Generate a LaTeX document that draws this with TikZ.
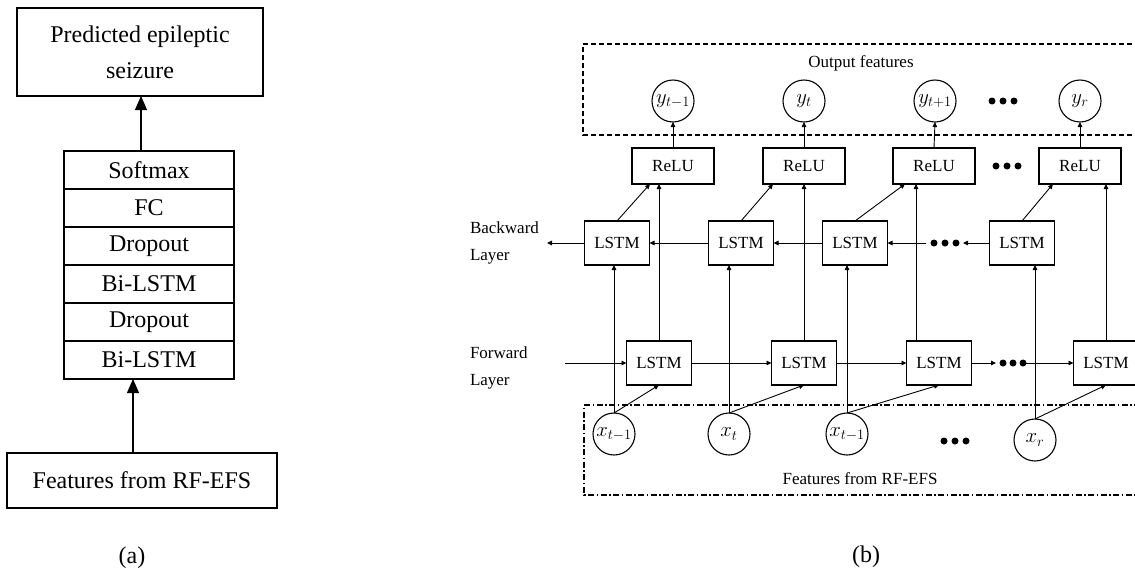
\documentclass[tikz,border=0pt]{standalone}
\usepackage{fontspec}
\setmainfont{Liberation Serif}
\usetikzlibrary{arrows.meta,calc}
\begin{document}
\begin{tikzpicture}[x=1pt,y=-1pt,
  every node/.style={inner sep=0pt, outer sep=0pt},
  boxa/.style={draw, line width=1.1pt, font=\fontsize{24}{36}\selectfont, align=center},
  rowa/.style={draw, line width=1.1pt, minimum width=170pt, minimum height=38pt, font=\fontsize{24}{28}\selectfont},
  arrA/.style={line width=1.1pt, -{Triangle[length=14pt,width=12pt]}},
  lstmbox/.style={draw, line width=1.1pt, minimum width=65pt, minimum height=44pt, font=\fontsize{17}{20}\selectfont},
  relubox/.style={draw, line width=1.1pt, minimum width=82pt, minimum height=36pt, font=\fontsize{17}{20}\selectfont},
  cnode/.style={draw, circle, line width=1.1pt, minimum size=42pt, font=\fontsize{20}{22}\selectfont},
  arrB/.style={line width=0.9pt, -{Triangle[length=5pt,width=4.5pt]}},
  lbl/.style={font=\fontsize{17}{27}\selectfont, align=left, anchor=west},
  txtb/.style={font=\fontsize{17}{20}\selectfont},
  captxt/.style={font=\fontsize{24}{28}\selectfont},
  dashbox/.style={line width=1.2pt, dash pattern=on 5pt off 3pt},
  ddbox/.style={line width=1.2pt, dash pattern=on 6pt off 2.5pt on 1.5pt off 2.5pt}
]
\fill[white] (0,0) rectangle (1135,571);
\useasboundingbox (0,0) rectangle (1135,571);

% ---------------- panel (a) ----------------
\node[boxa, minimum width=246pt, minimum height=88pt] (pred) at (140,52) {Predicted epileptic\\seizure};
\node[rowa] (soft)  at (149,170) {Softmax};
\node[rowa] (fc)    at (149,208) {FC};
\node[rowa] (drop1) at (149,246) {Dropout};
\node[rowa] (bil1)  at (149,284) {Bi-LSTM};
\node[rowa] (drop2) at (149,322) {Dropout};
\node[rowa] (bil2)  at (149,360) {Bi-LSTM};
\node[boxa, minimum width=270pt, minimum height=55pt] (feat) at (142,480.5) {Features from RF-EFS};
\node[captxt] (capa) at (132,558) {(a)};
\coordinate (ta) at (141,151);
\draw[arrA] (ta) -- (ta |- pred.south);
\coordinate (ba) at (133,453);
\draw[arrA] (ba) -- (ba |- bil2.south);

% ---------------- panel (b) ----------------
\draw[dashbox] (1140,44) -- (583,44) -- (583,135) -- (1140,135);
\draw[ddbox] (1140,405) -- (584,405) -- (584,495) -- (1140,495);
\node[txtb] (outf) at (861,63) {Output features};
\node[txtb] (inf) at (860,479) {Features from RF-EFS};
\node[captxt] (capb) at (866,557) {(b)};
\node[lbl] (bl) at (470,243) {Backward\\Layer};
\node[lbl] (fl) at (470,368) {Forward\\Layer};

\node[cnode] (Y1) at (673,101) {$y_{t-1}$};
\node[cnode] (Y2) at (804,101) {$y_{t}$};
\node[cnode] (Y3) at (935,101) {$y_{t+1}$};
\node[cnode] (Y4) at (1080,101) {$y_{r}$};

\node[relubox] (R1) at (673,166) {ReLU};
\node[relubox] (R2) at (804,166) {ReLU};
\node[relubox] (R3) at (934,166) {ReLU};
\node[relubox] (R4) at (1080,166) {ReLU};

\node[lstmbox] (B1) at (617,243) {LSTM};
\node[lstmbox] (B2) at (741,243) {LSTM};
\node[lstmbox] (B3) at (855,243) {LSTM};
\node[lstmbox] (B4) at (1022,243) {LSTM};

\node[lstmbox] (F1) at (659,363) {LSTM};
\node[lstmbox] (F2) at (804,363) {LSTM};
\node[lstmbox] (F3) at (939,363) {LSTM};
\node[lstmbox] (F4) at (1106,363) {LSTM};

\node[cnode] (X1) at (614,434) {$x_{t-1}$};
\node[cnode] (X2) at (729,434) {$x_{t}$};
\node[cnode] (X3) at (847,434) {$x_{t-1}$};
\node[cnode] (X4) at (1035,440) {$x_{r}$};

% dots
\foreach \cx/\cy in {992/101,1003/101,1014/101, 996/166,1007/166,1018/166,
                     934/243,945/243,956/243, 1003/363,1013/363,1023/363,
                     944/441,955/441,966/441}
  \fill (\cx,\cy) circle (3.5pt);

% ReLU -> y
\foreach \i in {1,2,3,4} \draw[arrB] (R\i.north) -- (Y\i.south);
% backward LSTM -> ReLU (diagonal)
\draw[arrB] (B1.north) -- ([xshift=-23pt]R1.south);
\draw[arrB] (B2.north) -- ([xshift=-31pt]R2.south);
\draw[arrB] (B3.north) -- ([xshift=-29pt]R3.south);
\draw[arrB] (B4.north) -- ([xshift=-27pt]R4.south);
% forward LSTM -> ReLU (vertical)
\draw[arrB] (F1.north) -- (F1.north |- R1.south);
\draw[arrB] (F2.north) -- (F2.north |- R2.south);
\coordinate (f3) at ([xshift=-23pt]F3.north);
\draw[arrB] (f3) -- (f3 |- R3.south);
\draw[arrB] (F4.north) -- (F4.north |- R4.south);
% x -> backward LSTM (vertical)
\foreach \i in {1,2,3,4} \draw[arrB] (X\i.north) -- (X\i.north |- B\i.south);
% x -> forward LSTM (diagonal)
\foreach \i in {1,2,3,4} \draw[arrB] (X\i.north) -- (F\i.south);
% backward chain
\coordinate (bout) at (547,243);
\coordinate (bd1) at (963,243);
\coordinate (bd2) at (926,243);
\draw[arrB] (B1.west) -- (bout);
\draw[arrB] (B2.west) -- (B1.east);
\draw[arrB] (B3.west) -- (B2.east);
\draw[arrB] (B4.west) -- (bd1);
\draw[arrB] (bd2) -- (B3.east);
% forward chain
\coordinate (fin) at (565,363);
\coordinate (fd1) at (996,363);
\coordinate (fd2) at (1023,363);
\draw[arrB] (fin) -- (F1.west);
\draw[arrB] (F1.east) -- (F2.west);
\draw[arrB] (F2.east) -- (F3.west);
\draw[arrB] (F3.east) -- (fd1);
\draw[arrB] (fd2) -- (F4.west);
\end{tikzpicture}
\end{document}
